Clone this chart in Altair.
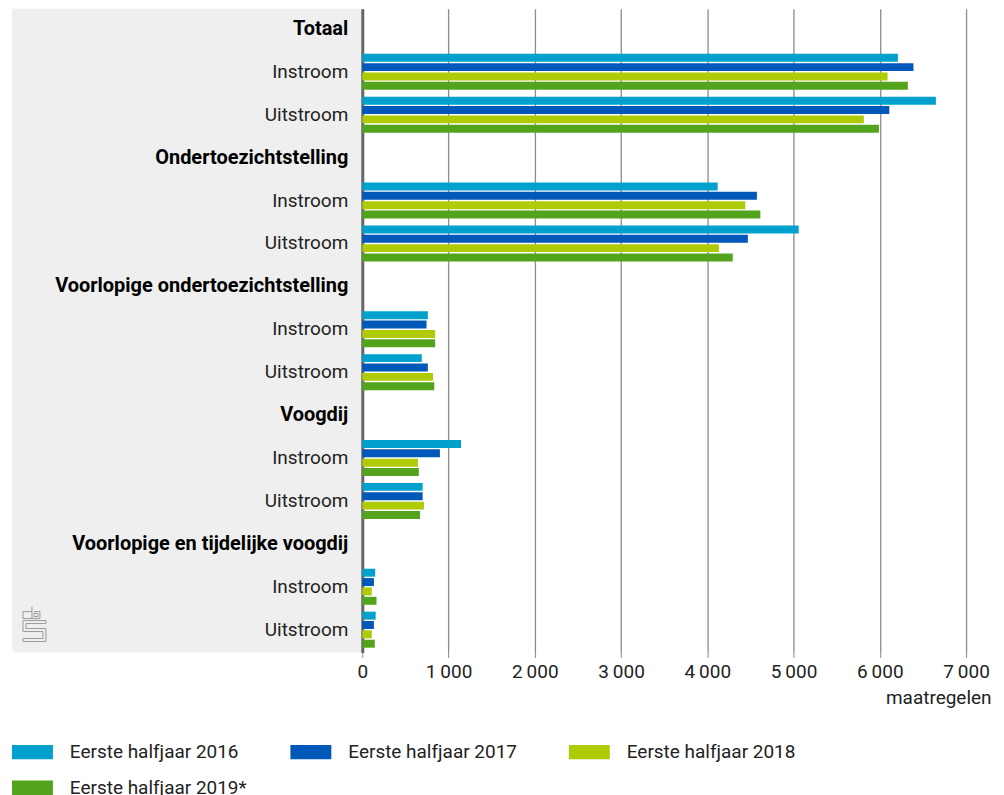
import altair as alt
import pandas as pd

categories = ["Totaal", "Ondertoezichtstelling", "Voorlopige ondertoezichtstelling",
              "Voogdij", "Voorlopige en tijdelijke voogdij"]
flows = ["Instroom", "Uitstroom"]
series = ["Eerste halfjaar 2016", "Eerste halfjaar 2017", "Eerste halfjaar 2018",
          "Eerste halfjaar 2019*"]

# order: Totaal In, Totaal Uit, OTS In, OTS Uit, VOTS In, VOTS Uit,
#        Voogdij In, Voogdij Uit, VTV In, VTV Uit
v2016 = [6210, 6650, 4120, 5060, 760, 690, 1145, 700, 150, 155]
v2017 = [6390, 6110, 4575, 4470, 745, 760, 900, 700, 135, 135]
v2018 = [6090, 5815, 4440, 4135, 845, 820, 645, 715, 110, 110]
v2019 = [6325, 5990, 4615, 4295, 845, 835, 655, 670, 165, 145]

tick_values = [0, 1000, 2000, 3000, 4000, 5000, 6000, 7000]
colors = ["#00a1cd", "#0058b8", "#afcb05", "#53a31d"]

rows = []
for c in categories:
    rows.append({"key": c, "label": c, "kind": "header"})
    for f in flows:
        rows.append({"key": c + "|" + f, "label": f, "kind": "sub"})
row_keys = [r["key"] for r in rows]
labels_df = pd.DataFrame(rows)

bars = []
for s, vals in zip(series, [v2016, v2017, v2018, v2019]):
    i = 0
    for c in categories:
        for f in flows:
            bars.append({"key": c + "|" + f, "series": s, "value": vals[i]})
            i += 1
bars_df = pd.DataFrame(bars)

FONT = "Roboto"
H = 645
LW = 351
RW = 605

yscale = alt.Scale(type="band", domain=row_keys, paddingInner=0.16,
                   paddingOuter=0.08, align=0.3)

# CBS logo outline (decoration), in 23x35 px units -> normalised [-1, 1]
def logo_path():
    segs = [
        [(9, 5), (0, 5), (0, 12), (9, 12)],
        [(9, 0), (9, 12), (17, 12), (17, 5), (11, 5)],
        [(11, 7), (15, 7), (15, 10), (11, 10), (11, 7)],
        [(23, 14), (0, 14), (0, 25), (20, 25), (20, 32), (0, 32), (0, 35),
         (23, 35), (23, 22), (3, 22), (3, 17), (23, 17), (23, 14)],
    ]
    out = []
    for seg in segs:
        pts = ["%.3f,%.3f" % ((x - 11.5) / 17.5, (y - 17.5) / 17.5) for x, y in seg]
        out.append("M" + "L".join(pts))
    return "".join(out)

one = pd.DataFrame({"a": [0]})

bg = alt.Chart(one).mark_rect(color="#efefef", cornerRadiusBottomLeft=6).encode(
    x=alt.value(0), x2=alt.value(LW), y=alt.value(0), y2=alt.value(H)
)

logo = alt.Chart(one).mark_point(
    shape=logo_path(), filled=False, stroke="#9a9a9a", strokeWidth=1, opacity=1
).encode(x=alt.value(22.5), y=alt.value(616.5), size=alt.value(1225))

head = alt.Chart(labels_df).transform_filter("datum.kind == 'header'").mark_text(
    align="right", baseline="middle", font=FONT, fontSize=20, fontWeight="bold",
    color="#000000"
).encode(
    y=alt.Y("key:N", scale=yscale, axis=None),
    x=alt.value(LW - 14),
    text="label:N",
)

sub = alt.Chart(labels_df).transform_filter("datum.kind == 'sub'").mark_text(
    align="right", baseline="middle", font=FONT, fontSize=19, color="#222222"
).encode(
    y=alt.Y("key:N", scale=yscale, axis=None),
    x=alt.value(LW - 14),
    text="label:N",
)

left = alt.layer(bg, logo, head, sub).properties(width=LW, height=H)

right = alt.Chart(bars_df).mark_bar().encode(
    x=alt.X(
        "value:Q",
        scale=alt.Scale(domain=[0, 7000], nice=False),
        axis=alt.Axis(
            values=tick_values,
            labelExpr="replace(format(datum.value, ','), ',', '\u2009')",
            title="maatregelen",
            titleFont=FONT, titleFontSize=19, titleFontWeight="normal", titleColor="#222222",
            titleAnchor="end", titleAlign="right", titleX=630, titleY=45,
            titleBaseline="middle",
            labelFont=FONT, labelFontSize=19, labelColor="#222222", labelPadding=5,
            domain=False, grid=True, gridColor="#8c8c8c", gridWidth=1.3,
            ticks=True, tickColor="#8c8c8c", tickSize=5, labelFlush=False,
        ),
    ),
    y=alt.Y(
        "key:N", scale=yscale,
        axis=alt.Axis(labels=False, ticks=False, title=None, grid=False,
                      domainColor="#666666", domainWidth=3),
    ),
    yOffset=alt.YOffset("series:N", scale=alt.Scale(domain=series, paddingInner=0.15)),
    color=alt.Color(
        "series:N",
        scale=alt.Scale(domain=series, range=colors),
        legend=alt.Legend(
            title=None, orient="none", legendX=0, legendY=724, columns=3,
            direction="horizontal", gridAlign="all",
            symbolType="M-1,-0.35H1V0.35H-1Z", symbolSize=1681,
            symbolStrokeWidth=0, symbolOpacity=1,
            labelFont=FONT, labelFontSize=19, labelColor="#222222",
            labelOffset=17, labelLimit=400, columnPadding=43, rowPadding=5,
        ),
    ),
).properties(width=RW, height=H)

chart = alt.hconcat(left, right, spacing=0, bounds="flush").properties(
    padding={"left": 4, "top": 0, "right": 5, "bottom": 0}
).configure_view(stroke=None)

chart.save("out.html", embed_options={"renderer": "svg", "actions": False})
